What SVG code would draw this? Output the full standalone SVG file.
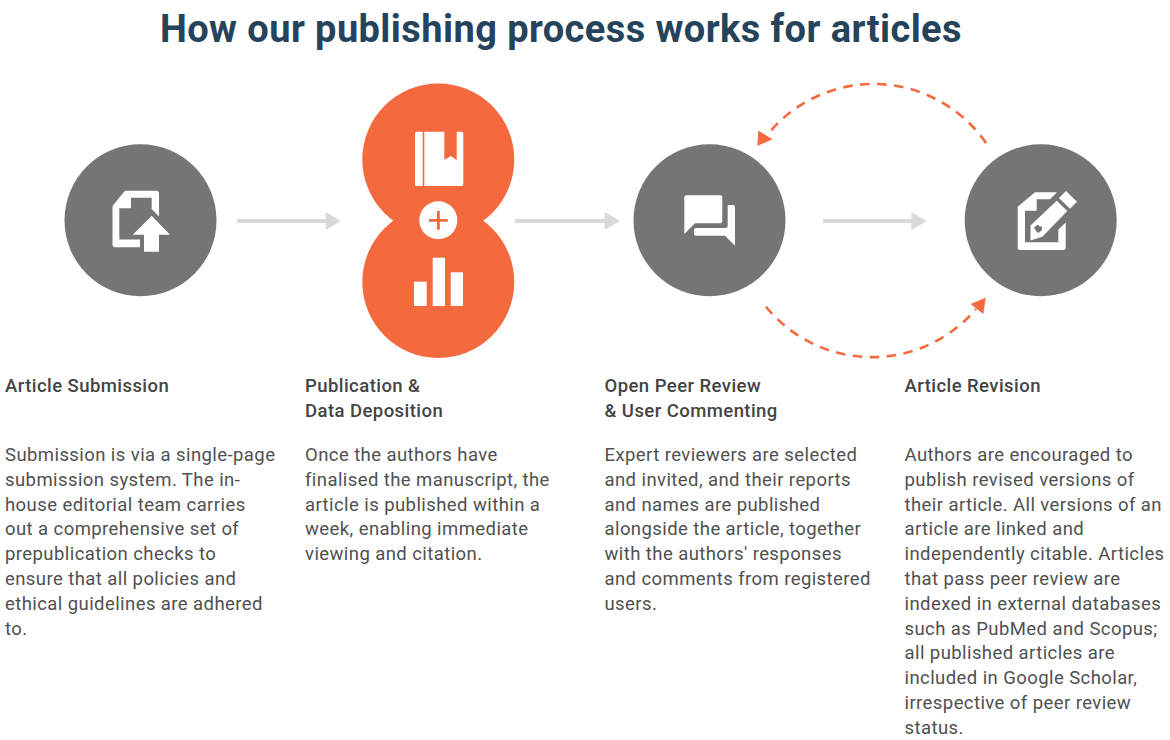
<svg xmlns="http://www.w3.org/2000/svg" width="1170" height="740" viewBox="0 0 1170 740">
<style>
text{font-family:Roboto,"Liberation Sans",sans-serif;fill:#505050}
.title{font-size:38px;font-weight:700;fill:#25435a;letter-spacing:.42px}
.h{font-size:18.5px;font-weight:500;letter-spacing:.44px;fill:#444}
.b{font-size:18.5px;letter-spacing:.42px}
.gray{fill:#757575}
.or{fill:#f4693d}
.w{fill:#fff}
.line{stroke:#d9d9d9;stroke-width:4;fill:none}
.head{fill:#d9d9d9}
.dash{stroke:#f4693d;stroke-width:2.6;fill:none;stroke-dasharray:9.5 7.5}
</style>
<rect width="1170" height="740" fill="#fff"/>
<text class="title" x="160" y="42">How our publishing process works for articles</text>
<g id="connectors">
<path class="line" d="M237 221H327"/><path class="head" d="M325.700 212L341 221L325.700 230Z"/>
<path class="line" d="M515 221H605"/><path class="head" d="M604.700 212L620 221L604.700 230Z"/>
<path class="line" d="M823 221H913"/><path class="head" d="M911.300 212L927 221L911.300 230Z"/>
<path class="dash" d="M986 143A136.500 136.500 0 0 0 768 134"/><path class="or" d="M757.300 146L758.300 130.700L772.700 139.300Z"/>
<path class="dash" d="M766 306.700A136.500 136.500 0 0 0 976 309"/><path class="or" d="M985.700 297.700L970.700 304L983.300 314Z"/>
</g>
<g id="node-submission">
<circle class="gray" cx="140.500" cy="220.300" r="76"/>
<path class="w" fill-rule="evenodd" d="M112.500 206L125 190.700H156Q159 190.700 159 193.500V216.500L151.700 209V197.700H131V208.300H119.300V239.500H140V247.300H115Q112.500 247.300 112.500 245Z"/>
<path class="w" d="M151.700 215.700L170 234.700H159V251.700H144V234.700H132.700Z"/>
</g>
<g id="node-publication">
<circle class="or" cx="438.300" cy="159.500" r="76"/>
<circle class="or" cx="438.300" cy="282" r="76"/>
<path class="w" d="M416.500 131.700H422.700V186H416.500Q415 186 415 184.500V133.200Q415 131.700 416.500 131.700Z"/>
<path class="w" d="M424.300 131.700H444.300V160L450.700 156L456.700 160V131.700H461.800Q463.300 131.700 463.300 133.200V184.500Q463.300 186 461.800 186H424.300Z"/>
<circle class="w" cx="438.300" cy="220.300" r="19"/>
<path class="or" d="M429 219H437V211H439.800V219H447.800V221.800H439.800V229.800H437V221.800H429Z"/>
<rect class="w" x="414" y="281.700" width="12.700" height="24.300"/>
<rect class="w" x="432.700" y="257.700" width="12.300" height="48.300"/>
<rect class="w" x="450.700" y="272.300" width="12.300" height="33.700"/>
</g>
<g id="node-review">
<circle class="gray" cx="709.500" cy="220.300" r="76"/>
<path class="w" d="M686.300 195.300H720.300Q722.300 195.300 722.300 197.300V221.300Q722.300 223.300 720.300 223.300H695L684.300 234V197.300Q684.300 195.300 686.300 195.300Z"/>
<path class="w" d="M696 228H725.700Q727.700 228 727.700 226V205H733Q735 205 735 207V245.700L725 235.700H696Q694 235.700 694 233.700V230Q694 228 696 228Z"/>
</g>
<g id="node-revision">
<circle class="gray" cx="1040.700" cy="220.300" r="76"/>
<path class="w" fill-rule="evenodd" d="M1017.700 206.700L1035 192.300H1057L1050 199.300H1036.700V210.700H1025V242.300H1058.300V229.500L1065.700 222.500V247.500Q1065.700 250 1063.200 250H1020.200Q1017.700 250 1017.700 247.500Z"/>
<path class="w" d="M1056.700 200.700L1067.300 211L1042.300 236.700L1030.500 240.500V225.500Z"/>
<path class="gray" d="M1034 227.500L1038 224.500L1039.500 226.500L1042 226.500L1042 230L1038.500 233L1036.500 231.500Z"/>
<path class="w" d="M1066 191L1077 201.700L1070 208.700L1059 198Z"/>
</g>
<g id="label-submission">
<text class="h" x="5" y="392">Article Submission</text>
<text class="b" x="5"><tspan x="5" y="461">Submission is via a single-page</tspan><tspan x="5" y="485.800">submission system. The in-</tspan><tspan x="5" y="510.600">house editorial team carries</tspan><tspan x="5" y="535.400">out a comprehensive set of</tspan><tspan x="5" y="560.200">prepublication checks to</tspan><tspan x="5" y="585">ensure that all policies and</tspan><tspan x="5" y="609.800">ethical guidelines are adhered</tspan><tspan x="5" y="634.600">to.</tspan></text>
</g>
<g id="label-publication">
<text class="h"><tspan x="305" y="392">Publication &amp;</tspan><tspan x="305" y="417">Data Deposition</tspan></text>
<text class="b"><tspan x="305" y="461">Once the authors have</tspan><tspan x="305" y="485.800">finalised the manuscript, the</tspan><tspan x="305" y="510.600">article is published within a</tspan><tspan x="305" y="535.400">week, enabling immediate</tspan><tspan x="305" y="560.200">viewing and citation.</tspan></text>
</g>
<g id="label-review">
<text class="h"><tspan x="604.500" y="392">Open Peer Review</tspan><tspan x="604.500" y="417">&amp; User Commenting</tspan></text>
<text class="b"><tspan x="604.500" y="461">Expert reviewers are selected</tspan><tspan x="604.500" y="485.800">and invited, and their reports</tspan><tspan x="604.500" y="510.600">and names are published</tspan><tspan x="604.500" y="535.400">alongside the article, together</tspan><tspan x="604.500" y="560.200">with the authors' responses</tspan><tspan x="604.500" y="585">and comments from registered</tspan><tspan x="604.500" y="609.800">users.</tspan></text>
</g>
<g id="label-revision">
<text class="h" x="904.500" y="392">Article Revision</text>
<text class="b"><tspan x="904.500" y="461">Authors are encouraged to</tspan><tspan x="904.500" y="485.800">publish revised versions of</tspan><tspan x="904.500" y="510.600">their article. All versions of an</tspan><tspan x="904.500" y="535.400">article are linked and</tspan><tspan x="904.500" y="560.200">independently citable. Articles</tspan><tspan x="904.500" y="585">that pass peer review are</tspan><tspan x="904.500" y="609.800">indexed in external databases</tspan><tspan x="904.500" y="634.600">such as PubMed and Scopus;</tspan><tspan x="904.500" y="659.400">all published articles are</tspan><tspan x="904.500" y="684.200">included in Google Scholar,</tspan><tspan x="904.500" y="709">irrespective of peer review</tspan><tspan x="904.500" y="733.800">status.</tspan></text>
</g>
</svg>
